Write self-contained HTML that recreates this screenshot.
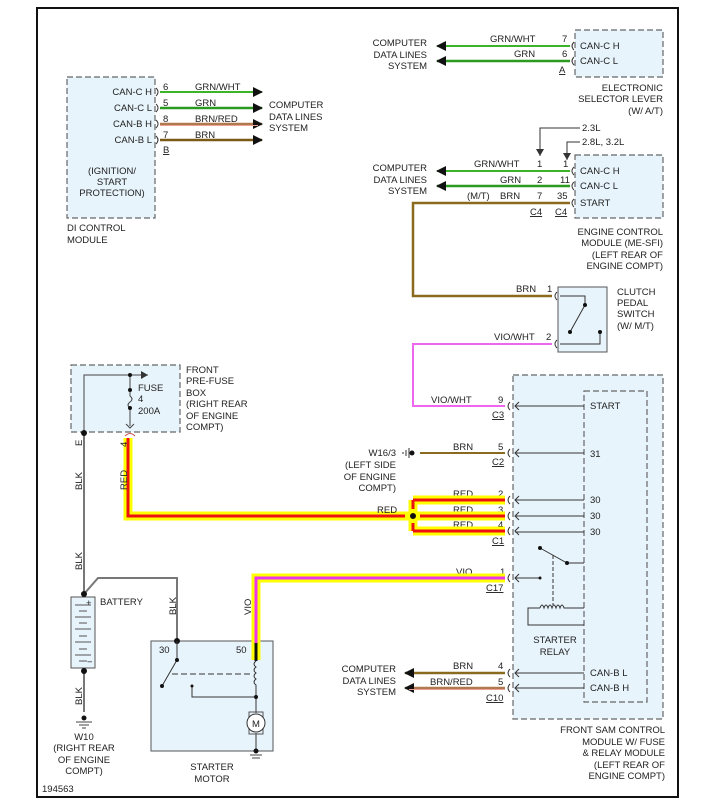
<!DOCTYPE html>
<html><head><style>
html,body{margin:0;padding:0;background:#fff}
svg{display:block}
text{font-family:"Liberation Sans",Arial,sans-serif;font-size:9.5px;fill:#222}
</style></head><body>
<svg width="717" height="812" viewBox="0 0 717 812">
<defs>
<marker id="ar" markerWidth="10" markerHeight="10" refX="9" refY="5" orient="auto" markerUnits="userSpaceOnUse"><path d="M0,0 L10,5 L0,10z" fill="#111"/></marker>
<marker id="sa" markerWidth="8" markerHeight="8" refX="7" refY="4" orient="auto" markerUnits="userSpaceOnUse"><path d="M0,0 L7,4 L0,8z" fill="#333"/></marker>
</defs>
<rect x="37" y="8" width="641" height="789" fill="none" stroke="#111" stroke-width="2"/>

<g fill="#e8f4fc" stroke="#666" stroke-dasharray="6,3" stroke-width="1.2">
<rect x="67" y="77" width="88" height="141"/>
<rect x="575" y="30" width="88" height="47"/>
<rect x="575" y="155" width="88" height="63"/>
<rect x="71" y="365" width="109" height="67"/>
<rect x="513" y="375" width="150" height="344"/>
<rect x="584" y="391" width="63" height="311"/>
</g>
<rect x="558" y="287" width="49" height="65" fill="#e8f4fc" stroke="#555"/>
<rect x="151" y="641" width="122" height="110" fill="#e8f4fc" stroke="#555"/>

<g text-anchor="end">
<text x="152" y="95">CAN-C H</text><text x="152" y="111">CAN-C L</text><text x="152" y="127">CAN-B H</text><text x="152" y="143">CAN-B L</text>
</g>
<text x="112" y="174" text-anchor="middle">(IGNITION/</text><text x="112" y="185" text-anchor="middle">START</text><text x="112" y="196" text-anchor="middle">PROTECTION)</text>
<text x="67" y="231">DI CONTROL</text><text x="67" y="243">MODULE</text>
<g fill="none" stroke="#333"><path d="M156,88 q4,4 0,8"/><path d="M156,104 q4,4 0,8"/><path d="M156,120 q4,4 0,8"/><path d="M156,136 q4,4 0,8"/></g>
<line x1="160" y1="92" x2="262" y2="92" stroke="#3db32a" stroke-width="2" marker-end="url(#ar)"/>
<line x1="160" y1="108" x2="262" y2="108" stroke="#2a9a20" stroke-width="2.5" marker-end="url(#ar)"/>
<line x1="160" y1="124" x2="262" y2="124" stroke="#b07a50" stroke-width="2.5" marker-end="url(#ar)"/>
<line x1="160" y1="125.5" x2="258" y2="125.5" stroke="#f0a090" stroke-width="1"/>
<line x1="160" y1="140" x2="262" y2="140" stroke="#7a5a14" stroke-width="2.5" marker-end="url(#ar)"/>
<text x="163" y="90">6</text><text x="163" y="106">5</text><text x="163" y="122">8</text><text x="163" y="138">7</text>
<text x="163" y="153" text-decoration="underline">B</text>
<text x="195" y="90">GRN/WHT</text><text x="195" y="106">GRN</text><text x="195" y="122">BRN/RED</text><text x="195" y="138">BRN</text>
<text x="269" y="108">COMPUTER</text><text x="269" y="120">DATA LINES</text><text x="269" y="131">SYSTEM</text>

<g text-anchor="end"><text x="427" y="46">COMPUTER</text><text x="427" y="58">DATA LINES</text><text x="427" y="69">SYSTEM</text></g>
<line x1="570" y1="46" x2="437" y2="46" stroke="#3db32a" stroke-width="2" marker-end="url(#ar)"/>
<line x1="570" y1="61" x2="437" y2="61" stroke="#2a9a20" stroke-width="2.5" marker-end="url(#ar)"/>
<g fill="none" stroke="#333"><path d="M574,42 q-4,4 0,8"/><path d="M574,57 q-4,4 0,8"/><path d="M574,167 q-4,4 0,8"/><path d="M574,182 q-4,4 0,8"/><path d="M574,199 q-4,4 0,8"/></g>
<text x="490" y="42">GRN/WHT</text><text x="514" y="57">GRN</text><text x="562" y="42">7</text><text x="562" y="57">6</text>
<text x="559" y="73" text-decoration="underline">A</text>
<text x="580" y="49">CAN-C H</text><text x="580" y="64">CAN-C L</text>
<g text-anchor="end"><text x="663" y="91">ELECTRONIC</text><text x="663" y="102">SELECTOR LEVER</text><text x="663" y="114">(W/ A/T)</text></g>

<path d="M580,128 H540 V156" fill="none" stroke="#333" marker-end="url(#sa)"/>
<path d="M580,142 H567 V160" fill="none" stroke="#333" marker-end="url(#sa)"/>
<text x="582" y="131">2.3L</text><text x="582" y="145">2.8L, 3.2L</text>
<g text-anchor="end"><text x="427" y="171">COMPUTER</text><text x="427" y="183">DATA LINES</text><text x="427" y="194">SYSTEM</text></g>
<line x1="570" y1="171" x2="437" y2="171" stroke="#3db32a" stroke-width="2" marker-end="url(#ar)"/>
<line x1="570" y1="186" x2="437" y2="186" stroke="#2a9a20" stroke-width="2.5" marker-end="url(#ar)"/>
<path d="M570,203 H413 V296 H552" fill="none" stroke="#8a6a1e" stroke-width="2.5"/>
<text x="474" y="167">GRN/WHT</text><text x="500" y="183">GRN</text><text x="467" y="199">(M/T)</text><text x="500" y="199">BRN</text>
<text x="537" y="167">1</text><text x="537" y="183">2</text><text x="537" y="199">7</text>
<text x="563" y="167">1</text><text x="560" y="183">11</text><text x="557" y="199">35</text>
<text x="530" y="215" text-decoration="underline">C4</text><text x="555" y="215" text-decoration="underline">C4</text>
<text x="580" y="174">CAN-C H</text><text x="580" y="189">CAN-C L</text><text x="580" y="206">START</text>
<g text-anchor="end"><text x="663" y="235">ENGINE CONTROL</text><text x="663" y="246">MODULE (ME-SFI)</text><text x="663" y="258">(LEFT REAR OF</text><text x="663" y="269">ENGINE COMPT)</text></g>

<g fill="none" stroke="#333"><path d="M557,292 q-4,4 0,8"/><path d="M557,340 q-4,4 0,8"/>
<path d="M560,296 H585 V305 M585,305 L570,332 M600,332 V344 H560"/></g>
<circle cx="585" cy="305" r="2" fill="#111"/><circle cx="570" cy="332" r="2" fill="#111"/><circle cx="600" cy="332" r="2" fill="#111"/>
<text x="516" y="292">BRN</text><text x="547" y="292">1</text><text x="494" y="340">VIO/WHT</text><text x="546" y="340">2</text>
<text x="617" y="295">CLUTCH</text><text x="617" y="306">PEDAL</text><text x="617" y="317">SWITCH</text><text x="617" y="329">(W/ M/T)</text>
<path d="M552,344 H413 V406 H505" fill="none" stroke="#ee66ee" stroke-width="2"/>

<g fill="none" stroke="#333">
<path d="M510,402 q-4,4 0,8"/><path d="M510,449 q-4,4 0,8"/><path d="M510,496 q-4,4 0,8"/><path d="M510,512 q-4,4 0,8"/><path d="M510,527 q-4,4 0,8"/><path d="M510,574 q-4,4 0,8"/><path d="M510,669 q-4,4 0,8"/><path d="M510,684 q-4,4 0,8"/>
<path d="M515,406 H584 M515,453 H584 M515,500 H584 M515,516 H584 M515,532 H584 M515,578 H540 M515,673 H584 M515,688 H584"/>
<path d="M540,548 L567,563 H584"/>
<path d="M553,555 V605" stroke-dasharray="4,2"/>
<path d="M540,608 q2,-6 4,0 q2,-6 4,0 q2,-6 4,0 q2,-6 4,0 q2,-6 4,0 q2,-6 4,0 H584 M540,608 H528 V625 H584"/>
</g>
<g stroke="#333" fill="none"><path d="M519,402 l-4,4 l4,4 M519,449 l-4,4 l4,4 M519,496 l-4,4 l4,4 M519,512 l-4,4 l4,4 M519,527 l-4,4 l4,4 M519,574 l-4,4 l4,4 M519,669 l-4,4 l4,4 M519,684 l-4,4 l4,4"/></g>
<circle cx="540" cy="548" r="2" fill="#111"/><circle cx="567" cy="563" r="2" fill="#111"/><circle cx="540" cy="578" r="1.5" fill="#111"/>
<text x="590" y="409">START</text><text x="590" y="457">31</text><text x="590" y="503">30</text><text x="590" y="519">30</text><text x="590" y="535">30</text>
<text x="590" y="676">CAN-B L</text><text x="590" y="691">CAN-B H</text>
<text x="555" y="643" text-anchor="middle">STARTER</text><text x="555" y="655" text-anchor="middle">RELAY</text>
<text x="431" y="403">VIO/WHT</text><text x="498" y="403">9</text><text x="492" y="418" text-decoration="underline">C3</text>
<text x="453" y="450">BRN</text><text x="498" y="450">5</text><text x="492" y="465" text-decoration="underline">C2</text>
<text x="453" y="497">RED</text><text x="498" y="497">2</text><text x="453" y="513">RED</text><text x="498" y="513">3</text><text x="453" y="528">RED</text><text x="498" y="528">4</text>
<text x="492" y="544" text-decoration="underline">C1</text>
<text x="456" y="575">VIO</text><text x="500" y="575">1</text><text x="486" y="591" text-decoration="underline">C17</text>
<g text-anchor="end"><text x="396" y="672">COMPUTER</text><text x="396" y="684">DATA LINES</text><text x="396" y="695">SYSTEM</text></g>
<line x1="505" y1="673" x2="405" y2="673" stroke="#8a6a1e" stroke-width="2.5" marker-end="url(#ar)"/>
<line x1="505" y1="688" x2="405" y2="688" stroke="#b07a50" stroke-width="2.5" marker-end="url(#ar)"/>
<line x1="505" y1="689.5" x2="409" y2="689.5" stroke="#f0a090" stroke-width="1"/>
<text x="453" y="669">BRN</text><text x="498" y="669">4</text><text x="430" y="685">BRN/RED</text><text x="498" y="685">5</text>
<text x="486" y="701" text-decoration="underline">C10</text>
<g text-anchor="end"><text x="665" y="733">FRONT SAM CONTROL</text><text x="665" y="745">MODULE W/ FUSE</text><text x="665" y="756">&amp; RELAY MODULE</text><text x="665" y="768">(LEFT REAR OF</text><text x="665" y="779">ENGINE COMPT)</text></g>

<line x1="420" y1="453" x2="505" y2="453" stroke="#8a6a1e" stroke-width="2"/>
<circle cx="412" cy="453" r="2.5" fill="#111"/>
<path d="M409,448 V458 M406,450 V456 M403,452 V454" stroke="#333"/>
<g text-anchor="end"><text x="396" y="456">W16/3</text><text x="396" y="468">(LEFT SIDE</text><text x="396" y="480">OF ENGINE</text><text x="396" y="491">COMPT)</text></g>

<g fill="none" stroke-linejoin="miter">
<path d="M128,438 V516 H413 M413,500 V531 M413,500 H505 M413,516 H505 M413,531 H505" stroke="#ffff00" stroke-width="9"/>
<path d="M128,438 V516 H405 M413,500 V509 M413,523 V531 M413,500 H505 M420,516 H505 M413,531 H505" stroke="#ee1111" stroke-width="3"/>
</g>
<circle cx="413" cy="516" r="3" fill="#111"/>
<text x="377" y="513">RED</text>
<text transform="translate(127,447) rotate(-90)">4</text>
<text transform="translate(127,490) rotate(-90)">RED</text>

<g fill="none">
<path d="M256,660 V578 H505" stroke="#ffff00" stroke-width="9"/>
<path d="M256,660 V578 H505" stroke="#ee33ee" stroke-width="3"/>
</g>
<line x1="256" y1="643" x2="256" y2="661" stroke="#111" stroke-width="3"/>
<text transform="translate(251,615) rotate(-90)">VIO</text>

<g fill="none" stroke="#444">
<path d="M84,432 V375 H148" marker-end="url(#sa)"/>
<path d="M130,375 V390 M130,408 V426" />
<path d="M130,390 V396 q4,3 0,6 q-4,3 0,6"/>
<path d="M126,424 l4,4 l4,-4"/>
</g>
<circle cx="130" cy="375" r="2" fill="#111"/><circle cx="130" cy="390" r="2" fill="#111"/><circle cx="130" cy="408" r="2" fill="#111"/>
<path d="M125,436 q5,-5 10,0" stroke="#c55" fill="none"/>
<text x="138" y="391">FUSE</text><text x="138" y="402">4</text><text x="138" y="414">200A</text>
<text x="186" y="373">FRONT</text><text x="186" y="384">PRE-FUSE</text><text x="186" y="396">BOX</text><text x="186" y="407">(RIGHT REAR</text><text x="186" y="419">OF ENGINE</text><text x="186" y="430">COMPT)</text>

<g fill="none" stroke="#777" stroke-width="2">
<path d="M84,432 V594 M84,594 L98,578 H177 V641 M84,670 V712"/>
</g>
<circle cx="84" cy="433" r="3" fill="#111"/>
<text transform="translate(82,446) rotate(-90)">E</text>
<text transform="translate(82,490) rotate(-90)">BLK</text>
<text transform="translate(82,570) rotate(-90)">BLK</text>
<text transform="translate(176,615) rotate(-90)">BLK</text>
<text transform="translate(82,705) rotate(-90)">BLK</text>

<rect x="71" y="597" width="24" height="71" fill="#e8f4fc" stroke="#555"/>
<g stroke="#555"><path d="M75,605 H91 M79,611 H87 M75,617 H91 M79,623 H87 M75,629 H91 M79,636 H87 M75,642 H91 M79,649 H87 M75,655 H91 M79,661 H87"/></g>
<text x="86" y="606" font-size="8">+</text><text x="87" y="665" font-size="8">−</text>
<circle cx="84" cy="594" r="3" fill="#111"/><circle cx="84" cy="671" r="3" fill="#111"/>
<text x="100" y="605">BATTERY</text>
<circle cx="84" cy="718" r="2.5" fill="#111"/>
<path d="M76,722 H92 M79,725 H89 M82,728 H86" stroke="#444"/>
<g text-anchor="middle"><text x="84" y="740">W10</text><text x="84" y="751">(RIGHT REAR</text><text x="84" y="763">OF ENGINE</text><text x="84" y="774">COMPT)</text></g>

<circle cx="177" cy="641" r="3" fill="#111"/>
<text x="159" y="653">30</text><text x="236" y="653">50</text>
<g fill="none" stroke="#333">
<path d="M177,641 V660 L162,686"/>
<path d="M172,674 H253" stroke-dasharray="6,3"/>
<path d="M256,661 q-4,3 0,6 q-4,3 0,6 q-4,3 0,6 q-4,3 0,6 V697 H192 V686"/>
<path d="M256,697 V713 M256,733 V751"/>
<rect x="249" y="712" width="14" height="22" stroke="#555"/>
</g>
<circle cx="177" cy="660" r="2" fill="#111"/><circle cx="162" cy="686" r="2" fill="#111"/><circle cx="192" cy="686" r="1.5" fill="#111"/><circle cx="256" cy="697" r="2" fill="#111"/>
<circle cx="256" cy="723" r="9" fill="#fff" stroke="#333"/>
<text x="256" y="727" text-anchor="middle" font-size="11">M</text>
<circle cx="256" cy="751" r="2.5" fill="#111"/>
<path d="M250,755 H262 M252,758 H260" stroke="#444"/>
<text x="212" y="770" text-anchor="middle">STARTER</text><text x="212" y="782" text-anchor="middle">MOTOR</text>

<text x="42" y="792">194563</text>
</svg>
</body></html>
